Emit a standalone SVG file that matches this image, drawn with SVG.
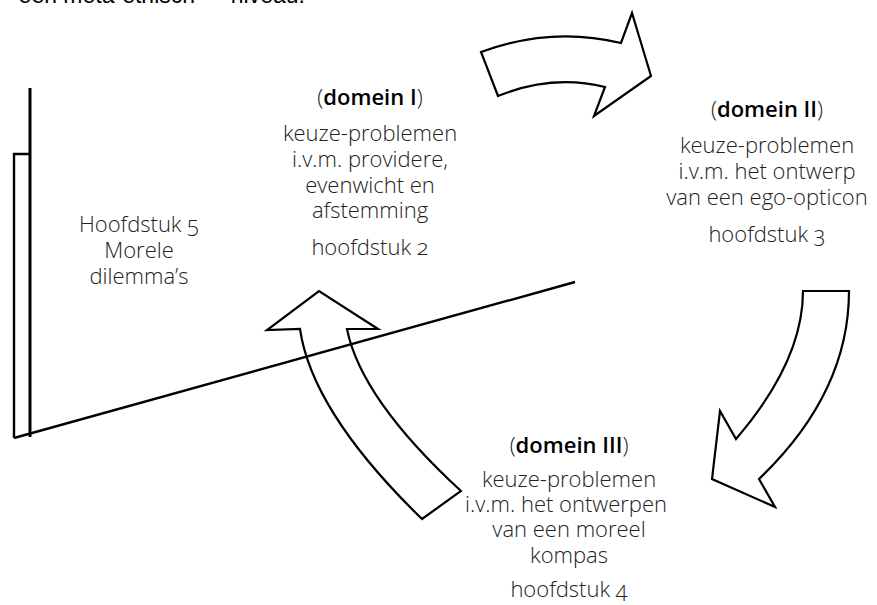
<svg xmlns="http://www.w3.org/2000/svg" width="877" height="605" viewBox="0 0 877 605">
  <style>
    .t { font-family: "Open Sans", "Lato", "DejaVu Sans", sans-serif; font-size: 22px; font-weight: 300; fill: #222; text-anchor: middle; font-variant-numeric: oldstyle-nums; }
    .b { font-weight: 600; fill: #000; }
    .top { font-family: "Liberation Sans", Arial, sans-serif; font-size: 23px; fill: #000; text-anchor: end; }
    .arrow { fill: none; stroke: #000; stroke-width: 2.2; stroke-linejoin: miter; }
    .ln { fill: none; stroke: #000; stroke-width: 2.4; }
  </style>
  <rect width="877" height="605" fill="#fff"/>
  <text class="top" x="305" y="2.5">een meta-ethisch — niveau.</text>

  <g id="connectors">
    <path class="arrow" d="M481,52 Q551,26 621,43 L632,13 L651,76 L594,116 L605,87 Q552,74 498,96 Z"/>
    <path class="arrow" d="M803,291 L849,291 Q849,393 759,479 L775,507 L712,479 L720,411 L736,439 Q803,361 803,291 Z"/>
    <path class="arrow" d="M422,519 Q312,412 300,329 L267,330 L319,291 L378,329 L347,329 Q361,399 461,491 Z"/>
  </g>

  <g id="hoofdstuk5-frame">
    <polyline class="ln" points="30,154 14,154 14,438"/>
    <line class="ln" x1="14" y1="438" x2="575" y2="282"/>
    <line x1="30" y1="88" x2="30" y2="437" stroke="#000" stroke-width="3"/>
  </g>

  <g id="hoofdstuk5">
    <text class="t" x="139" y="232">Hoofdstuk 5</text>
    <text class="t" x="139" y="258">Morele</text>
    <text class="t" x="139" y="284">dilemma’s</text>
  </g>

  <g id="domein1">
    <text class="t" x="370" y="105">(<tspan class="b">domein I</tspan>)</text>
    <text class="t" x="370" y="141">keuze-problemen</text>
    <text class="t" x="370" y="167">i.v.m. providere,</text>
    <text class="t" x="370" y="193">evenwicht en</text>
    <text class="t" x="370" y="218">afstemming</text>
    <text class="t" x="370" y="255">hoofdstuk 2</text>
  </g>

  <g id="domein2">
    <text class="t" x="767" y="117">(<tspan class="b">domein II</tspan>)</text>
    <text class="t" x="767" y="153">keuze-problemen</text>
    <text class="t" x="767" y="179">i.v.m. het ontwerp</text>
    <text class="t" x="767" y="205">van een ego-opticon</text>
    <text class="t" x="767" y="242">hoofdstuk 3</text>
  </g>

  <g id="domein3">
    <text class="t" x="569" y="453">(<tspan class="b">domein III</tspan>)</text>
    <text class="t" x="569" y="487">keuze-problemen</text>
    <text class="t" x="566" y="512">i.v.m. het ontwerpen</text>
    <text class="t" x="569" y="537">van een moreel</text>
    <text class="t" x="569" y="563">kompas</text>
    <text class="t" x="569" y="597">hoofdstuk 4</text>
  </g>
</svg>
